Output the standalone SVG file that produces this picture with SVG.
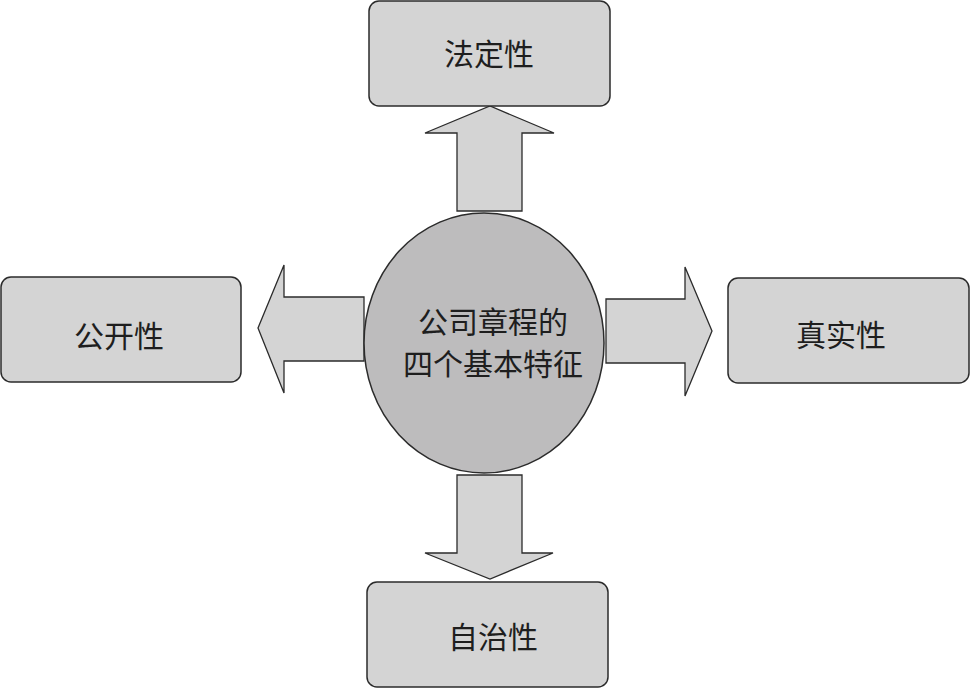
<svg xmlns="http://www.w3.org/2000/svg" width="970" height="688" viewBox="0 0 970 688">
<style>
.box{fill:#d4d4d4;stroke:#2b2b2b;stroke-width:1.5}
.arr{fill:#d4d4d4;stroke:#2b2b2b;stroke-width:1.3;stroke-linejoin:miter}
.hub{fill:#bdbcbd;stroke:#2b2b2b;stroke-width:1.5}
text{font-family:"Noto Sans CJK SC","Noto Sans CJK TC",sans-serif;font-size:30px;fill:#1e1e1e;text-anchor:middle}
</style>
<rect width="970" height="688" fill="#ffffff"/>
<g id="connectors">
<polygon class="arr" points="457,211 457,133 425,133 490,106 554,133 522,133 522,211"/>
<polygon class="arr" points="457,475 522,475 522,553 553,553 490,579 425,553 457,553"/>
<polygon class="arr" points="364,297 284,297 284,265 258,328 284,393 284,361 364,361"/>
<polygon class="arr" points="606,299 685,299 685,267 712,331 685,396 685,363 606,363"/>
</g>
<g id="center">
<ellipse class="hub" cx="484" cy="343" rx="120" ry="130"/>
<text x="493" y="333">公司章程的</text>
<text x="493" y="375">四个基本特征</text>
</g>
<g id="fading">
<rect class="box" x="369" y="1" width="241" height="105" rx="10"/>
<text x="489" y="65">法定性</text>
</g>
<g id="gongkai">
<rect class="box" x="1" y="277" width="240" height="105" rx="10"/>
<text x="119" y="347">公开性</text>
</g>
<g id="zhenshi">
<rect class="box" x="728" y="278" width="241" height="105" rx="10"/>
<text x="841" y="346">真实性</text>
</g>
<g id="zizhi">
<rect class="box" x="367" y="582" width="241" height="105" rx="10"/>
<text x="493" y="648">自治性</text>
</g>
</svg>
